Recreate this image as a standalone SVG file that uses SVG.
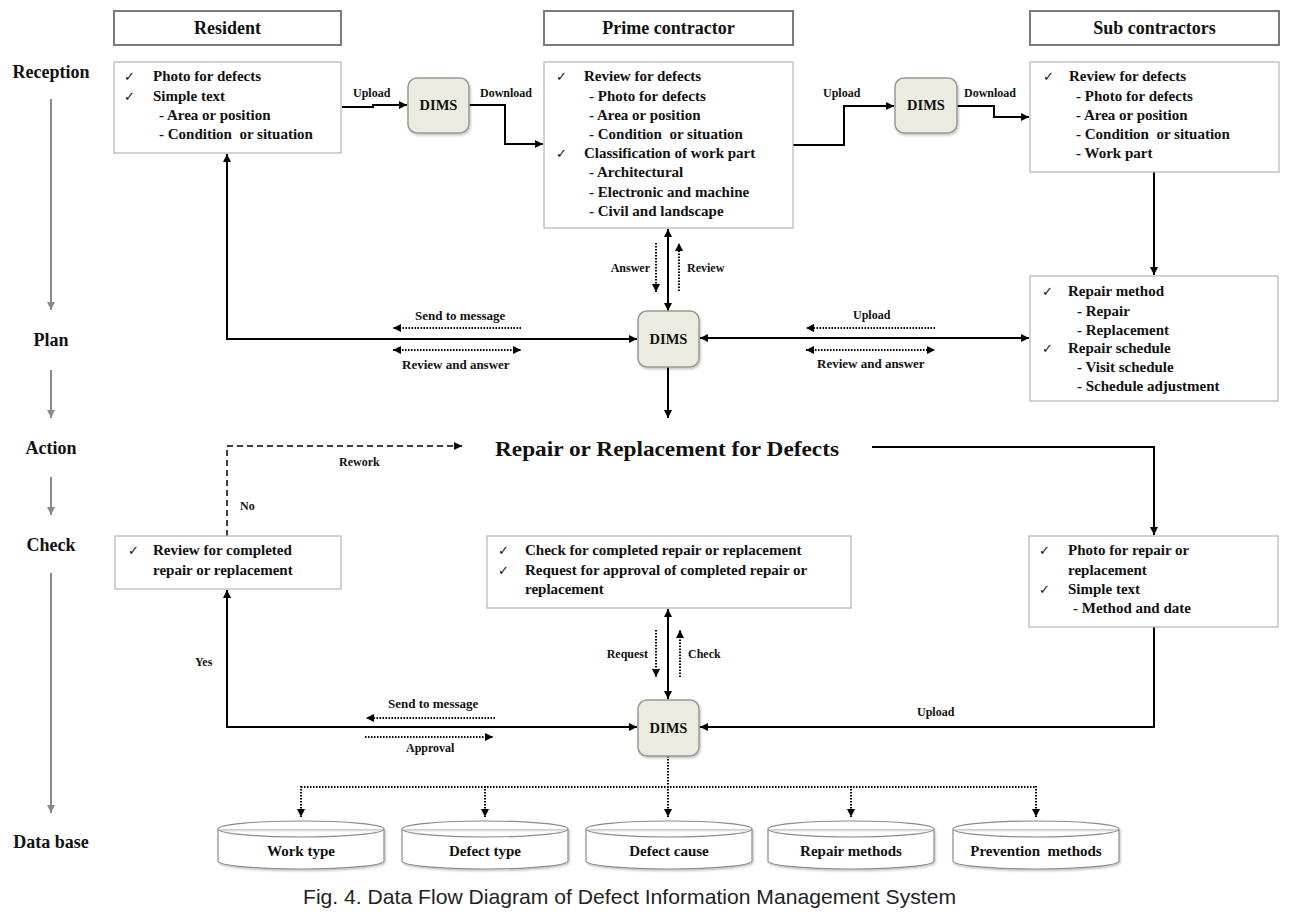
<svg xmlns="http://www.w3.org/2000/svg" width="1298" height="914" viewBox="0 0 1298 914">
<style>
.t{font-family:"Liberation Serif","Times New Roman",serif;font-weight:bold;fill:#111;}
.b15{font-size:15px;}
.hdr{font-size:18px;text-anchor:middle;}
.stg{font-size:18px;text-anchor:middle;}
.lbl{font-size:12px;}
.lbl13{font-size:13px;}
.ck{font-family:"DejaVu Sans",sans-serif;font-size:13px;fill:#111;}
.hbox{fill:#fff;stroke:#7a7a7a;stroke-width:2;}
.cbox{fill:#fff;stroke:#b5b5b5;stroke-width:1.2;}
.dims{fill:#ecebe1;stroke:#9a9a92;stroke-width:1.5;}
.dl{font-family:"Liberation Serif","Times New Roman",serif;font-weight:bold;font-size:14.5px;text-anchor:middle;fill:#111;}
.cyl{fill:#fff;stroke:#8c8c8c;stroke-width:1.2;}
.cl{font-family:"Liberation Serif","Times New Roman",serif;font-weight:bold;font-size:15px;text-anchor:middle;fill:#111;}
.sl{fill:none;stroke:#000;stroke-width:2;}
.dot{fill:none;stroke:#000;stroke-width:2;stroke-dasharray:1.5,1.5;}
.dash{fill:none;stroke:#000;stroke-width:1.5;stroke-dasharray:6,4;}
.gl{fill:none;stroke:#8a8a8a;stroke-width:2;}
</style>
<defs>
<marker id="ah" markerUnits="userSpaceOnUse" markerWidth="9" markerHeight="8" refX="8" refY="4" orient="auto-start-reverse">
<path d="M0,0 L8,4 L0,8 z" fill="#000"/>
</marker>
<marker id="gh" markerUnits="userSpaceOnUse" markerWidth="9" markerHeight="8" refX="8" refY="4" orient="auto">
<path d="M0,0 L8,4 L0,8 z" fill="#8a8a8a"/>
</marker>
<filter id="sh" x="-20%" y="-20%" width="150%" height="150%">
<feDropShadow dx="1" dy="1.5" stdDeviation="1.2" flood-color="#000" flood-opacity="0.25"/>
</filter>
</defs>
<rect width="1298" height="914" fill="#fff"/>

<g id="stages">
<text class="t stg" x="51" y="78">Reception</text>
<text class="t stg" x="51" y="346">Plan</text>
<text class="t stg" x="51" y="454">Action</text>
<text class="t stg" x="51" y="551">Check</text>
<text class="t stg" x="51" y="848">Data base</text>
<path class="gl" d="M51,99 V310" marker-end="url(#gh)"/>
<path class="gl" d="M51,370 V418" marker-end="url(#gh)"/>
<path class="gl" d="M51,477 V515" marker-end="url(#gh)"/>
<path class="gl" d="M51,573 V813" marker-end="url(#gh)"/>
</g>

<g id="hdr-resident"><rect class="hbox" x="114" y="11" width="227" height="34"/><text class="t hdr" x="227.5" y="34">Resident</text></g>
<g id="hdr-prime"><rect class="hbox" x="544" y="11" width="249" height="34"/><text class="t hdr" x="668.5" y="34">Prime contractor</text></g>
<g id="hdr-sub"><rect class="hbox" x="1030" y="11" width="249" height="34"/><text class="t hdr" x="1154.5" y="34">Sub contractors</text></g>

<g id="connectors">
<path class="sl" d="M342,107 H373 V105 H407" marker-end="url(#ah)"/>
<path class="sl" d="M469,105 H505 V144 H543" marker-end="url(#ah)"/>
<path class="sl" d="M793,145 H844 V106 H894" marker-end="url(#ah)"/>
<path class="sl" d="M957,106 H994 V117 H1029" marker-end="url(#ah)"/>
<path class="sl" d="M1154,172 V275" marker-end="url(#ah)"/>
<path class="sl" d="M227,154 V339 H637" marker-start="url(#ah)" marker-end="url(#ah)"/>
<path class="sl" d="M668,229 V311" marker-start="url(#ah)" marker-end="url(#ah)"/>
<path class="dot" d="M656,243 V292" marker-end="url(#ah)"/>
<path class="dot" d="M679,291 V243" marker-end="url(#ah)"/>
<path class="dot" d="M521,328 H393" marker-end="url(#ah)"/>
<path class="dot" d="M393,350 H521" marker-start="url(#ah)" marker-end="url(#ah)"/>
<path class="sl" d="M700,338 H1029" marker-start="url(#ah)" marker-end="url(#ah)"/>
<path class="dot" d="M935,328 H806" marker-end="url(#ah)"/>
<path class="dot" d="M806,350 H935" marker-start="url(#ah)" marker-end="url(#ah)"/>
<path class="sl" d="M668,367 V418" marker-end="url(#ah)"/>
<path class="dash" d="M227,536 V446 H462" marker-end="url(#ah)"/>
<path class="sl" d="M872,447 H1154 V535" marker-end="url(#ah)"/>
<path class="sl" d="M227,590 V727 H637" marker-start="url(#ah)" marker-end="url(#ah)"/>
<path class="sl" d="M668,609 V699" marker-start="url(#ah)" marker-end="url(#ah)"/>
<path class="dot" d="M656,630 V677" marker-end="url(#ah)"/>
<path class="dot" d="M680,677 V630" marker-end="url(#ah)"/>
<path class="dot" d="M495,718 H366" marker-end="url(#ah)"/>
<path class="dot" d="M365,737 H493" marker-end="url(#ah)"/>
<path class="sl" d="M1154,627 V727 H700" marker-end="url(#ah)"/>
<path class="dot" d="M668,756 V817" marker-end="url(#ah)"/>
<path class="dot" d="M301,787 H1036"/>
<path class="dot" d="M301,786 V817" marker-end="url(#ah)"/>
<path class="dot" d="M485,786 V817" marker-end="url(#ah)"/>
<path class="dot" d="M851,786 V817" marker-end="url(#ah)"/>
<path class="dot" d="M1036,786 V817" marker-end="url(#ah)"/>
<text class="t lbl" x="353" y="97">Upload</text>
<text class="t lbl" x="480" y="97">Download</text>
<text class="t lbl" x="823" y="97">Upload</text>
<text class="t lbl" x="964" y="97">Download</text>
<text class="t lbl" x="650" y="272" text-anchor="end">Answer</text>
<text class="t lbl" x="687" y="272">Review</text>
<text class="t lbl13" x="415" y="320">Send to message</text>
<text class="t lbl13" x="402" y="369">Review and answer</text>
<text class="t lbl" x="853" y="319">Upload</text>
<text class="t lbl13" x="817" y="368">Review and answer</text>
<text class="t lbl" x="339" y="466">Rework</text>
<text class="t lbl" x="240" y="510">No</text>
<text class="t lbl" x="195" y="666">Yes</text>
<text class="t lbl" x="648" y="658" text-anchor="end">Request</text>
<text class="t lbl" x="688" y="658">Check</text>
<text class="t lbl13" x="388" y="708">Send to message</text>
<text class="t lbl" x="406" y="752">Approval</text>
<text class="t lbl" x="917" y="716">Upload</text>
</g>

<g id="resident-reception">
<rect class="cbox" x="114" y="62" width="227" height="91"/>
<text class="ck" x="124" y="81">✓</text><text class="t b15" x="153" y="81">Photo for defects</text>
<text class="ck" x="124" y="101">✓</text><text class="t b15" x="153" y="101">Simple text</text>
<text class="t b15" x="159" y="120">- Area or position</text>
<text class="t b15" x="159" y="139" xml:space="preserve">- Condition  or situation</text>
</g>

<g id="dims-1"><rect class="dims" x="408" y="78" width="61" height="55" rx="9" filter="url(#sh)"/><text class="dl" x="438.5" y="110">DIMS</text></g>

<g id="prime-reception">
<rect class="cbox" x="544" y="62" width="249" height="166"/>
<text class="ck" x="556" y="81">✓</text><text class="t b15" x="584" y="81">Review for defects</text>
<text class="t b15" x="589" y="101">- Photo for defects</text>
<text class="t b15" x="589" y="120">- Area or position</text>
<text class="t b15" x="589" y="139" xml:space="preserve">- Condition  or situation</text>
<text class="ck" x="556" y="158">✓</text><text class="t b15" x="584" y="158">Classification of work part</text>
<text class="t b15" x="589" y="177">- Architectural</text>
<text class="t b15" x="589" y="197">- Electronic and machine</text>
<text class="t b15" x="589" y="216">- Civil and landscape</text>
</g>

<g id="dims-2"><rect class="dims" x="895" y="78" width="62" height="55" rx="9" filter="url(#sh)"/><text class="dl" x="926" y="110">DIMS</text></g>

<g id="sub-reception">
<rect class="cbox" x="1030" y="62" width="249" height="110"/>
<text class="ck" x="1043" y="81">✓</text><text class="t b15" x="1069" y="81">Review for defects</text>
<text class="t b15" x="1076" y="101">- Photo for defects</text>
<text class="t b15" x="1076" y="120">- Area or position</text>
<text class="t b15" x="1076" y="139" xml:space="preserve">- Condition  or situation</text>
<text class="t b15" x="1076" y="158">- Work part</text>
</g>

<g id="sub-plan">
<rect class="cbox" x="1030" y="276" width="248" height="125"/>
<text class="ck" x="1042" y="296">✓</text><text class="t b15" x="1068" y="296">Repair method</text>
<text class="t b15" x="1077" y="316">- Repair</text>
<text class="t b15" x="1077" y="335">- Replacement</text>
<text class="ck" x="1042" y="353">✓</text><text class="t b15" x="1068" y="353">Repair schedule</text>
<text class="t b15" x="1077" y="372">- Visit schedule</text>
<text class="t b15" x="1077" y="391">- Schedule adjustment</text>
</g>

<g id="dims-plan"><rect class="dims" x="638" y="311" width="61" height="56" rx="9" filter="url(#sh)"/><text class="dl" x="668.5" y="344">DIMS</text></g>

<g id="action-title"><text class="t" x="495" y="456" font-size="22" textLength="344" lengthAdjust="spacingAndGlyphs">Repair or Replacement for Defects</text></g>

<g id="resident-check">
<rect class="cbox" x="115" y="536" width="226" height="53"/>
<text class="ck" x="128" y="555">✓</text><text class="t b15" x="153" y="555">Review for completed</text>
<text class="t b15" x="153" y="575">repair or replacement</text>
</g>

<g id="prime-check">
<rect class="cbox" x="487" y="536" width="364" height="72"/>
<text class="ck" x="498" y="555">✓</text><text class="t b15" x="525" y="555">Check for completed repair or replacement</text>
<text class="ck" x="498" y="575">✓</text><text class="t b15" x="525" y="575">Request for approval of completed repair or</text>
<text class="t b15" x="525" y="594">replacement</text>
</g>

<g id="sub-check">
<rect class="cbox" x="1029" y="536" width="249" height="91"/>
<text class="ck" x="1039" y="555">✓</text><text class="t b15" x="1068" y="555">Photo for repair or</text>
<text class="t b15" x="1068" y="575">replacement</text>
<text class="ck" x="1039" y="594">✓</text><text class="t b15" x="1068" y="594">Simple text</text>
<text class="t b15" x="1073" y="613">- Method and date</text>
</g>

<g id="dims-check"><rect class="dims" x="638" y="700" width="61" height="56" rx="9" filter="url(#sh)"/><text class="dl" x="668.5" y="733">DIMS</text></g>

<g id="db-work-type"><path class="cyl" filter="url(#sh)" d="M218,829 A83,8 0 0 1 384,829 V861 A83,8 0 0 1 218,861 Z M218,829 A83,8 0 0 0 384,829"/><text class="cl" x="301" y="856">Work type</text></g>
<g id="db-defect-type"><path class="cyl" filter="url(#sh)" d="M402,829 A83,8 0 0 1 568,829 V861 A83,8 0 0 1 402,861 Z M402,829 A83,8 0 0 0 568,829"/><text class="cl" x="485" y="856">Defect type</text></g>
<g id="db-defect-cause"><path class="cyl" filter="url(#sh)" d="M586,829 A83,8 0 0 1 752,829 V861 A83,8 0 0 1 586,861 Z M586,829 A83,8 0 0 0 752,829"/><text class="cl" x="669" y="856">Defect cause</text></g>
<g id="db-repair-methods"><path class="cyl" filter="url(#sh)" d="M768,829 A83,8 0 0 1 934,829 V861 A83,8 0 0 1 768,861 Z M768,829 A83,8 0 0 0 934,829"/><text class="cl" x="851" y="856">Repair methods</text></g>
<g id="db-prevention-methods"><path class="cyl" filter="url(#sh)" d="M953,829 A83,8 0 0 1 1119,829 V861 A83,8 0 0 1 953,861 Z M953,829 A83,8 0 0 0 1119,829"/><text class="cl" x="1036" y="856" xml:space="preserve">Prevention  methods</text></g>

<g id="caption"><text x="303" y="904" font-family="'Liberation Sans',Arial,sans-serif" font-size="21" fill="#222" textLength="653" lengthAdjust="spacingAndGlyphs">Fig. 4. Data Flow Diagram of Defect Information Management System</text></g>
</svg>
